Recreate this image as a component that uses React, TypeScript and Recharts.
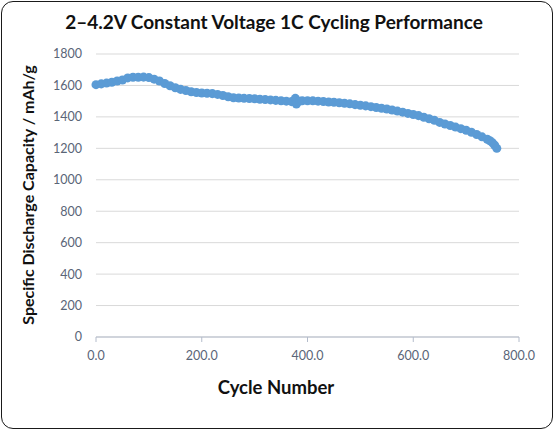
import React from 'react'
import { ScatterChart, Scatter, XAxis, YAxis, ZAxis, CartesianGrid } from 'recharts'

// cycle number (roughly every 10 cycles, denser where the curve is steep)
const cycles = [
  0, 10, 20, 30, 40, 50, 60, 70, 80, 90, 100, 110, 120, 130, 140, 150, 160, 170, 180, 190,
  200, 210, 220, 230, 240, 250, 260, 270, 280, 290, 300, 310, 320, 330, 340, 350, 360, 370, 377, 379,
  385, 390, 400, 410, 420, 430, 440, 450, 460, 470, 480, 490, 500, 510, 520, 530, 540, 550, 560, 570,
  580, 590, 600, 610, 620, 630, 640, 650, 660, 670, 680, 690, 700, 710, 720, 730, 740, 745, 750, 754,
  758,
]

// specific discharge capacity, mAh/g
const capacity = [
  1605, 1610, 1615, 1620, 1628, 1635, 1648, 1652, 1652, 1653, 1650, 1640, 1628, 1612, 1598, 1585, 1575, 1568, 1560, 1555,
  1552, 1550, 1548, 1543, 1536, 1528, 1522, 1520, 1518, 1517, 1515, 1512, 1510, 1508, 1505, 1503, 1500, 1497, 1518, 1482,
  1500, 1503, 1503, 1502, 1500, 1498, 1495, 1493, 1490, 1487, 1483, 1478, 1474, 1470, 1465, 1460, 1455, 1450, 1444, 1437,
  1430, 1422, 1415, 1408, 1398, 1388, 1378, 1365, 1355, 1345, 1335, 1325, 1315, 1302, 1288, 1273, 1258, 1248, 1235, 1220,
  1200,
]

const xTicks = [0, 200, 400, 600, 800]
const yTicks = [0, 200, 400, 600, 800, 1000, 1200, 1400, 1600, 1800]

const data = cycles.map((c, i) => ({ cycle: c, cap: capacity[i] }))

const font = 'Lato, "Noto Sans", sans-serif'
const tickStyle = { fill: '#5a6577', fontSize: 12.5, fontFamily: font }

export default function App() {
  return (
    <div style={{ position: 'absolute', left: 0, top: 0, width: 554, height: 431, background: '#fff' }}>
      <div
        style={{
          position: 'absolute', left: 1, top: 1, width: 552, height: 428, boxSizing: 'border-box',
          border: '1.5px solid #1a1a1a', borderRadius: 12,
        }}
      />
      <ScatterChart width={554} height={431} margin={{ top: 54, right: 35, bottom: 0, left: 0 }}>
        <CartesianGrid vertical={false} stroke="#d9d9d9" />
        <XAxis
          type="number"
          dataKey="cycle"
          domain={[0, 800]}
          ticks={xTicks}
          tickFormatter={(v: number) => v.toFixed(1)}
          height={94}
          stroke="#b4bccb"
          tickSize={5}
          tickMargin={9}
          tick={tickStyle}
          label={{
            content: () => (
              <text x={276} y={394} textAnchor="middle" fontFamily={font} fontWeight={700} fontSize={18.5} fill="#111">
                Cycle Number
              </text>
            ),
          }}
        />
        <YAxis
          type="number"
          dataKey="cap"
          domain={[0, 1800]}
          ticks={yTicks}
          width={96}
          axisLine={false}
          tickLine={false}
          tickSize={6}
          tickMargin={8}
          tick={tickStyle}
          label={{
            content: () => (
              <text
                x={34}
                y={195}
                transform="rotate(-90 34 195)"
                textAnchor="middle"
                fontFamily={font}
                fontWeight={700}
                fontSize={16}
                fill="#111"
              >
                Specific Discharge Capacity / mAh/g
              </text>
            ),
          }}
        />
        <ZAxis range={[95, 95]} />
        <Scatter data={data} fill="#5b9bd5" isAnimationActive={false} />
        <text x={274} y={29} textAnchor="middle" fontFamily={font} fontWeight={700} fontSize={19} fill="#111">
          2–4.2V Constant Voltage 1C Cycling Performance
        </text>
      </ScatterChart>
    </div>
  )
}
